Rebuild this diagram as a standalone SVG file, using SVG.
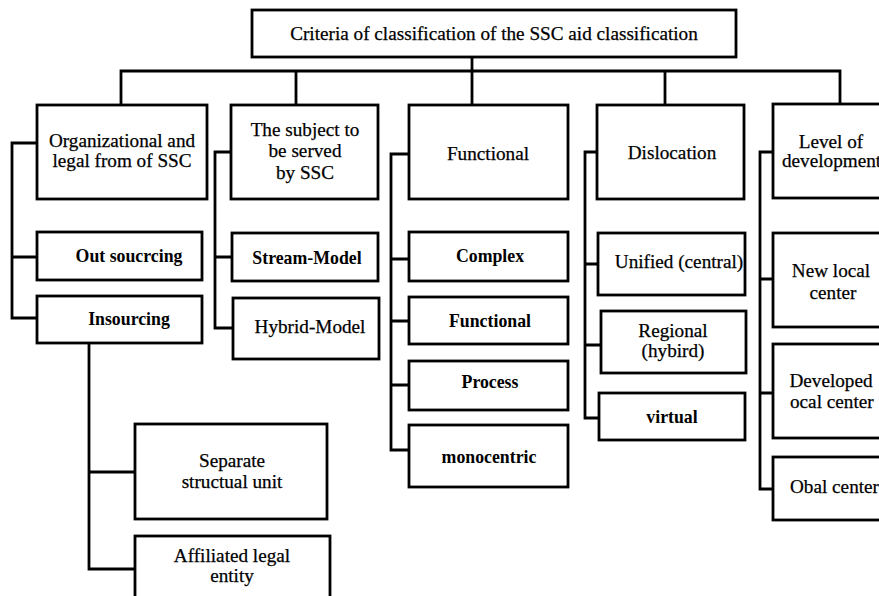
<svg xmlns="http://www.w3.org/2000/svg" width="879" height="596" viewBox="0 0 879 596">
<style>
  rect { fill: #ffffff; stroke: #000000; stroke-width: 2.8; }
  .c path { fill: none; stroke: #000000; stroke-width: 2.8; }
  text { font-family: 'Liberation Serif', 'DejaVu Serif', serif; font-size: 19.2px; fill: #000000; text-anchor: middle; stroke: #000000; stroke-width: 0.25; }
  .b { font-weight: bold; font-size: 17.8px; stroke-width: 0; }
  .l { text-anchor: start; }
</style>
<rect x="0" y="0" width="879" height="596" style="fill:#ffffff;stroke:none"/>
<g class="c" id="connectors">
  <path d="M121,104 V71 H840 V104"/>
  <path d="M296,71 V104"/>
  <path d="M472,57 V104"/>
  <path d="M665,71 V104"/>
  <path d="M37,143 H12 V318 H37 M12,257 H37"/>
  <path d="M231,152 H215 V328 H233 M215,257 H232"/>
  <path d="M409,154 H391 V450 H409 M391,259 H409 M391,321 H409 M391,385 H409"/>
  <path d="M597,152 H585 V418 H599 M585,264 H598 M585,345 H601"/>
  <path d="M773,152 H760 V489 H773 M760,279 H773 M760,393 H773"/>
  <path d="M89,343 V569 H135 M89,472 H135"/>
</g>
<g id="root">
  <rect x="252" y="10" width="484" height="47"/>
  <text x="494" y="40">Criteria of classification of the SSC aid classification</text>
</g>
<g id="n-org">
  <rect x="37" y="105" width="170" height="94"/>
  <text x="122" y="147">Organizational and</text>
  <text x="122" y="167">legal from of SSC</text>
</g>
<g id="n-subject">
  <rect x="231" y="105" width="147" height="94"/>
  <text x="305" y="136">The subject to</text>
  <text x="305" y="157">be served</text>
  <text x="305" y="179">by SSC</text>
</g>
<g id="n-functional">
  <rect x="409" y="105" width="159" height="94"/>
  <text x="488" y="160">Functional</text>
</g>
<g id="n-dislocation">
  <rect x="597" y="105" width="147" height="94"/>
  <text x="672" y="159">Dislocation</text>
</g>
<g id="n-level">
  <rect x="773" y="104" width="120" height="94"/>
  <text x="831" y="148">Level of</text>
  <text class="l" x="782" y="167">development</text>
</g>
<g id="n-outsourcing">
  <rect x="37" y="232" width="165" height="48"/>
  <text class="b" x="129" y="262">Out soucrcing</text>
</g>
<g id="n-insourcing">
  <rect x="37" y="296" width="165" height="47"/>
  <text class="b" x="129" y="325">Insourcing</text>
</g>
<g id="n-separate">
  <rect x="135" y="424" width="192" height="95"/>
  <text x="232" y="467">Separate</text>
  <text x="232" y="488">structual unit</text>
</g>
<g id="n-affiliated">
  <rect x="135" y="536" width="195" height="80"/>
  <text x="232" y="562">Affiliated legal</text>
  <text x="232" y="582">entity</text>
</g>
<g id="n-stream">
  <rect x="232" y="233" width="146" height="48"/>
  <text class="b" x="307" y="264">Stream-Model</text>
</g>
<g id="n-hybrid">
  <rect x="233" y="298" width="146" height="61"/>
  <text x="310" y="333">Hybrid-Model</text>
</g>
<g id="n-complex">
  <rect x="409" y="232" width="159" height="49"/>
  <text class="b" x="490" y="262">Complex</text>
</g>
<g id="n-functional2">
  <rect x="409" y="297" width="159" height="47"/>
  <text class="b" x="490" y="327">Functional</text>
</g>
<g id="n-process">
  <rect x="409" y="361" width="159" height="49"/>
  <text class="b" x="490" y="388">Process</text>
</g>
<g id="n-monocentric">
  <rect x="409" y="425" width="159" height="62"/>
  <text class="b" x="489" y="463">monocentric</text>
</g>
<g id="n-unified">
  <rect x="598" y="233" width="147" height="62"/>
  <text x="679" y="268">Unified (central)</text>
</g>
<g id="n-regional">
  <rect x="601" y="311" width="145" height="62"/>
  <text x="673" y="337">Regional</text>
  <text x="673" y="357">(hybird)</text>
</g>
<g id="n-virtual">
  <rect x="599" y="393" width="146" height="47"/>
  <text class="b" x="672" y="423">virtual</text>
</g>
<g id="n-newlocal">
  <rect x="773" y="233" width="120" height="94"/>
  <text x="831" y="277">New local</text>
  <text x="833" y="299">center</text>
</g>
<g id="n-developed">
  <rect x="773" y="344" width="120" height="94"/>
  <text x="831" y="387">Developed</text>
  <text class="l" x="790" y="408">ocal center</text>
</g>
<g id="n-global">
  <rect x="773" y="457" width="120" height="63"/>
  <text class="l" x="790" y="493">Obal center</text>
</g>
</svg>
